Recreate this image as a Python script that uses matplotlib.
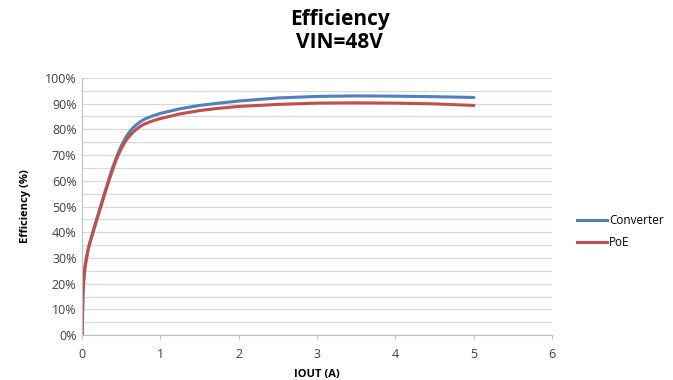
import matplotlib
matplotlib.use('Agg')
import matplotlib.pyplot as plt
from matplotlib.ticker import MultipleLocator, PercentFormatter

# data
iout = [0, 0.005, 0.01, 0.02, 0.035, 0.05, 0.075, 0.1, 0.15, 0.2, 0.25, 0.3, 0.35, 0.4, 0.45, 0.5,
        0.55, 0.6, 0.65, 0.7, 0.75, 0.8, 0.9, 1.0, 1.25, 1.5, 1.75, 2.0, 2.5, 3.0, 3.5, 4.0, 4.5, 5.0]
converter = [0, 0.08, 0.15, 0.21, 0.26, 0.29, 0.33, 0.36, 0.415, 0.465, 0.515, 0.565, 0.615, 0.66, 0.70, 0.735,
             0.765, 0.788, 0.806, 0.820, 0.831, 0.840, 0.852, 0.862, 0.880, 0.893, 0.902, 0.910, 0.922, 0.928,
             0.930, 0.929, 0.927, 0.924]
poe = [0, 0.08, 0.15, 0.21, 0.26, 0.29, 0.33, 0.36, 0.41, 0.46, 0.51, 0.56, 0.607, 0.652, 0.692, 0.725,
       0.752, 0.772, 0.789, 0.802, 0.813, 0.821, 0.833, 0.842, 0.860, 0.873, 0.882, 0.889, 0.897, 0.902,
       0.903, 0.902, 0.899, 0.893]

plt.rcParams['font.family'] = ['Open Sans', 'DejaVu Sans']

fig = plt.figure(figsize=(6.73, 3.8), dpi=100)
ax = fig.add_axes([0.122, 0.118, 0.698, 0.677])

ax.plot(iout, converter, color='#4F81BD', lw=2.2, label='Converter')
ax.plot(iout, poe, color='#C0504D', lw=2.2, label='PoE')

ax.set_xlim(0, 6)
ax.set_ylim(0, 1)
ax.xaxis.set_major_locator(MultipleLocator(1))
ax.yaxis.set_major_locator(MultipleLocator(0.1))
ax.yaxis.set_minor_locator(MultipleLocator(0.05))
ax.yaxis.set_major_formatter(PercentFormatter(1.0, decimals=0))
ax.grid(axis='y', which='both', color='#D9D9D9', lw=0.9)
ax.set_axisbelow(True)
for s in ['top', 'right']:
    ax.spines[s].set_visible(False)
ax.spines['left'].set_color('#BFBFBF')
ax.spines['bottom'].set_color('#BFBFBF')
ax.tick_params(axis='both', which='both', length=0, labelsize=9, colors='#404040', pad=4)
ax.tick_params(axis='x', length=3, color='#BFBFBF', pad=6)

ax.set_xlabel('IOUT (A)', fontsize=8, fontweight='bold', labelpad=6)
ax.set_ylabel('Efficiency (%)', fontsize=8, fontweight='bold', labelpad=10)

fig.text(0.505, 0.975, 'Efficiency\nVIN=48V', ha='center', va='top',
         fontsize=15, fontweight='bold', linespacing=1.1)

fig.legend(loc='center left', bbox_to_anchor=(0.857, 0.39), frameon=False,
           borderpad=0, borderaxespad=0,
           fontsize=8.5, handlelength=2.6, handletextpad=0.15, labelspacing=0.75)

fig.savefig('out.png', dpi=100)
